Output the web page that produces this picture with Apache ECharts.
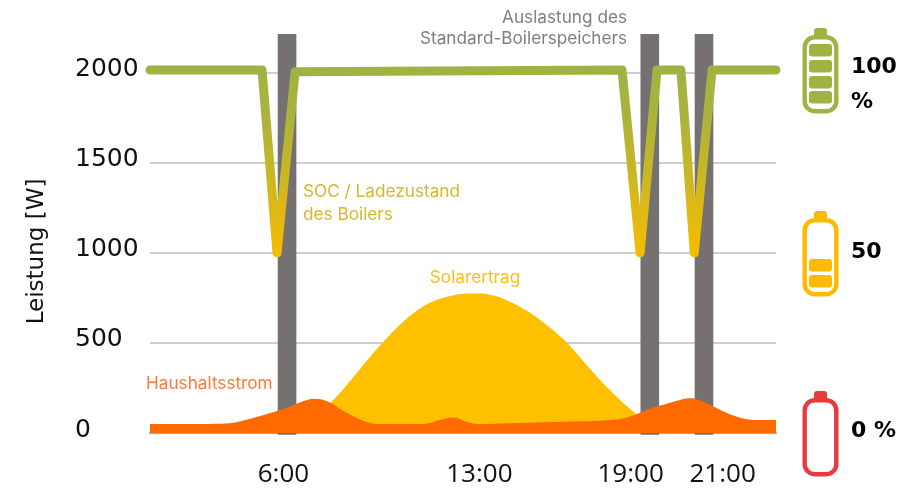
<!DOCTYPE html>
<html>
<head>
<meta charset="utf-8">
<style>html,body{margin:0;padding:0;background:#fff}#c{width:915px;height:488px}</style>
<script src="https://cdn.jsdelivr.net/npm/echarts@6/dist/echarts.min.js"></script>
</head>
<body>
<div id="c"></div>
<script>
const socHours  = [1.07,5.10,5.64,6.29,18.05,18.70,19.31,20.17,20.65,21.29,23.59];
const socWatts  = [2015,2015,1000,2005,2015,1000,2015,2015,1000,2015,2015];
const solarHours = [6.5,7,7.5,8,8.5,9,9.5,10,10.5,11,11.5,12,12.5,13,13.5,14,14.5,15,15.5,16,16.5,17,17.5,18,18.5,19];
const solarWatts = [0,65,155,240,332,425,512,592,660,712,745,765,774,775,760,730,690,640,580,512,428,338,255,180,112,45];
const houseHours = [1.07,2,3,3.5,4,4.5,5,5.5,6,6.5,7,7.5,8,8.5,9,9.5,10,10.5,11,11.5,12,12.5,13,14,15,16,17,17.5,18,18.5,19,19.5,20,20.5,21,21.5,22,22.5,23,23.59];
const houseWatts = [50,50,50,51,55,72,93,115,140,172,190,172,125,85,56,50,50,50,52,72,86,60,50,54,58,62,66,71,78,100,132,155,178,193,172,135,100,78,72,72];
const chargeHours = [6,19.05,21];
const tickLabels = ['6:00','13:00','19:00','21:00'];
const tickSpots  = [5.87,12.92,18.36,21.67];
const yMax = 2215;

const zip = (a,b) => a.map((v,i)=>[v,b[i]]);
const chart = echarts.init(document.getElementById('c'), null, {renderer:'canvas'});

function battery(top, color, cells){
  const els = [
    {type:'rect', shape:{x:814,y:top-7,width:13,height:9,r:[3,3,0,0]}, style:{fill:color}},
    {type:'rect', shape:{x:804.7,y:top+2.2,width:31.6,height:74,r:10}, style:{fill:'#fff',stroke:color,lineWidth:4.4}}
  ];
  cells.forEach(c => els.push({type:'rect', shape:{x:809,y:top+c,width:23,height:12.5,r:3}, style:{fill:color}}));
  return els;
}
const label = (x,y,text,fill,font,extra) => ({type:'text', x, y, style:Object.assign({text, fill, font, textVerticalAlign:'middle'}, extra||{})});
const noteFont = '17.2px Inter';
const sideFont = 'bold 22px "DejaVu Sans"';

chart.setOption({
  animation:false,
  backgroundColor:'#fff',
  grid:{left:150,right:139,top:34,bottom:53},
  xAxis:{
    type:'value', min:1.07, max:23.59,
    splitLine:{show:false},
    axisLine:{show:true,onZero:true,lineStyle:{color:'#A6A6A6',width:2}},
    axisTick:{show:false},
    axisLabel:{
      customValues:tickSpots,
      formatter:v => tickLabels[tickSpots.indexOf(v)],
      margin:29, hideOverlap:false,
      color:'#111', fontFamily:'Open Sans', fontSize:26
    }
  },
  yAxis:{
    type:'value', min:0, max:yMax, interval:500,
    axisLine:{show:false}, axisTick:{show:false},
    splitLine:{show:true,showMaxLine:false,showMinLine:false,lineStyle:{color:'#BFBFBF',width:1.5}},
    axisLabel:{
      showMaxLabel:false, align:'left', margin:75,
      verticalAlign:'bottom', lineHeight:6,
      formatter:v => String(v),
      color:'#111', fontFamily:'DejaVu Sans', fontSize:25
    }
  },
  series:[
    {type:'custom', name:'Auslastung', data:chargeHours.map(h=>[h]), z:2, clip:false,
     renderItem:(p,api)=>{
       const h=api.value(0);
       const a=api.coord([h-0.335,yMax]), b=api.coord([h+0.335,-10]);
       return {type:'rect', shape:{x:a[0],y:a[1],width:b[0]-a[0],height:b[1]-a[1]}, style:{fill:'#767171'}};
     }},
    {type:'line', name:'Solarertrag', data:zip(solarHours,solarWatts), z:3, smooth:0.3, showSymbol:false,
     lineStyle:{width:0}, itemStyle:{color:'#FFC000'}, areaStyle:{color:'#FFC000',opacity:1}},
    {type:'line', name:'Haushaltsstrom', data:zip(houseHours,houseWatts), z:4, smooth:0.4, showSymbol:false,
     lineStyle:{width:0}, itemStyle:{color:'#FF6A00'}, areaStyle:{color:'#FF6A00',opacity:1}},
    {type:'line', name:'SOC', data:zip(socHours,socWatts), z:5, showSymbol:false, clip:false,
     lineStyle:{width:9,cap:'round',join:'round',
       color:{type:'linear',x:0,y:0,x2:0,y2:1,colorStops:[{offset:0,color:'#A0B243'},{offset:0.25,color:'#A9B33E'},{offset:1,color:'#F7BC00'}]}}}
  ],
  graphic:[
    {type:'text', x:37, y:251.5, rotation:Math.PI/2, style:{text:'Leistung [W]',fill:'#111',font:'23px "DejaVu Sans"',textAlign:'center',textVerticalAlign:'middle'}},
    label(627,18,'Auslastung des','#7F7F7F',noteFont,{textAlign:'right'}),
    label(627,39,'Standard-Boilerspeichers','#7F7F7F',noteFont,{textAlign:'right'}),
    label(303,192,'SOC / Ladezustand','#D6B82E',noteFont),
    label(303,215,'des Boilers','#D6B82E',noteFont),
    label(475,278,'Solarertrag','#FFBE1A',noteFont,{textAlign:'center'}),
    label(146,384,'Haushaltsstrom','#FF7A3C',noteFont),
    ...battery(35,'#A0B243',[9,25,41,56]),
    ...battery(218,'#FFBA00',[41,57]),
    ...battery(398,'#E83A3C',[]),
    label(851,67,'100','#000',sideFont),
    label(851,102,'%','#000',sideFont),
    label(851,252,'50','#000',sideFont),
    label(851,431,'0 %','#000',sideFont)
  ]
});
</script>
</body>
</html>
